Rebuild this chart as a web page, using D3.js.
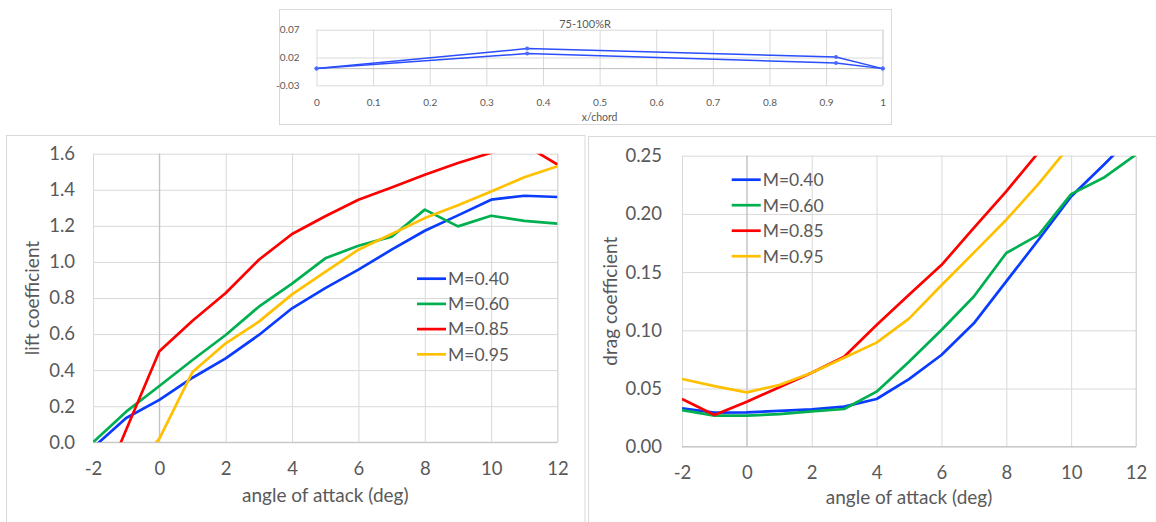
<!DOCTYPE html>
<html>
<head>
<meta charset="utf-8">
<script src="https://cdn.jsdelivr.net/npm/d3@7"></script>
<style>
  body { margin: 0; background: #fff; }
  svg { display: block; font-family: Lato, "Open Sans", sans-serif; }
</style>
</head>
<body>
<div id="chart"></div>
<script>
// ---- data ----
var angles = [-2, -1, 0, 1, 2, 3, 4, 5, 6, 7, 8, 9, 10, 11, 12];
var machLabels = ["M=0.40", "M=0.60", "M=0.85", "M=0.95"];
var machColors = ["#0a3cff", "#00b050", "#ff0000", "#ffc000"];

var liftM040 = [-0.03, 0.135, 0.235, 0.358, 0.465, 0.595, 0.743, 0.855, 0.957, 1.068, 1.173, 1.258, 1.345, 1.367, 1.36];
var liftM060 = [0.0, 0.17, 0.312, 0.456, 0.595, 0.752, 0.88, 1.02, 1.09, 1.14, 1.29, 1.197, 1.256, 1.228, 1.212];
var liftM085 = [-0.37, 0.07, 0.505, 0.674, 0.828, 1.012, 1.155, 1.253, 1.345, 1.413, 1.483, 1.548, 1.605, 1.65, 1.54];
var liftM095 = [-0.5, -0.2, 0.02, 0.39, 0.549, 0.669, 0.82, 0.945, 1.068, 1.155, 1.243, 1.314, 1.391, 1.469, 1.53];

var dragM040 = [0.033, 0.0292, 0.0295, 0.0307, 0.0321, 0.0344, 0.041, 0.058, 0.0788, 0.106, 0.142, 0.178, 0.215, 0.242, 0.27];
var dragM060 = [0.0315, 0.0267, 0.0267, 0.028, 0.0304, 0.0324, 0.0473, 0.073, 0.1003, 0.129, 0.1664, 0.182, 0.217, 0.231, 0.251];
var dragM085 = [0.041, 0.0272, 0.0387, 0.051, 0.0636, 0.0773, 0.1045, 0.1306, 0.156, 0.188, 0.2194, 0.253, 0.29, 0.33, 0.37];
var dragM095 = [0.0582, 0.052, 0.0467, 0.053, 0.0636, 0.0765, 0.0894, 0.110, 0.1387, 0.1667, 0.195, 0.226, 0.26, 0.30, 0.34];

// airfoil section 75-100%R
var chordX = [0, 0.372, 0.9175, 1];
var upperY = [0, 0.036, 0.021, 0];
var lowerY = [0, 0.027, 0.010, 0];

var angleTicks = [-2, 0, 2, 4, 6, 8, 10, 12];
var liftTicks = [0, 0.2, 0.4, 0.6, 0.8, 1.0, 1.2, 1.4, 1.6];
var dragTicks = [0, 0.05, 0.10, 0.15, 0.20, 0.25];
var chordTicks = [0, 0.1, 0.2, 0.3, 0.4, 0.5, 0.6, 0.7, 0.8, 0.9, 1];
var thickTicks = [-0.03, 0.02, 0.07];

var width = 1156;
var height = 522;
var gridColor = "#d9d9d9";
var axisColor = "#bfbfbf";
var textColor = "#595959";

// Excel writes a plain hyphen for negatives
function plain(fmt) {
    var f = d3.format(fmt);
    return function(d) { return f(d).replace("\u2212", "-"); };
}

var svg = d3.select("#chart")
    .append("svg")
    .attr("width", width)
    .attr("height", height);

// chart frames
svg.append("rect").attr("x", 6.5).attr("y", 135.5).attr("width", 578.5).attr("height", 500)
    .attr("fill", "#fff").attr("stroke", gridColor);
svg.append("rect").attr("x", 588.5).attr("y", 136.5).attr("width", 600).attr("height", 500)
    .attr("fill", "#fff").attr("stroke", gridColor);
svg.append("rect").attr("x", 279.5).attr("y", 9.5).attr("width", 612).attr("height", 115)
    .attr("fill", "#fff").attr("stroke", gridColor);

// draws gridlines + tick labels with d3 axes, Excel style
function drawGrid(g, x, y, xTicks, yTicks, xFmt, yFmt, fs, xPad, yPad) {
    var w = x.range()[1] - x.range()[0];
    var h = y.range()[0] - y.range()[1];
    var gy = g.append("g")
        .attr("transform", "translate(" + x.range()[0] + ",0)")
        .call(d3.axisLeft(y).tickValues(yTicks).tickFormat(yFmt).tickSize(-w).tickPadding(yPad));
    var gx = g.append("g")
        .attr("transform", "translate(0," + y.range()[0] + ")")
        .call(d3.axisBottom(x).tickValues(xTicks).tickFormat(xFmt).tickSize(-h).tickPadding(xPad));
    [gx, gy].forEach(function(a) {
        a.select(".domain").remove();
        a.selectAll(".tick line").attr("stroke", gridColor).attr("stroke-width", 1);
        a.selectAll(".tick text").attr("fill", textColor).style("font-size", fs + "px")
            .style("font-family", "Lato, sans-serif");
    });
    // right border of plot area
    g.append("line").attr("x1", x.range()[1]).attr("x2", x.range()[1])
        .attr("y1", y.range()[0]).attr("y2", y.range()[1]).attr("stroke", gridColor);
}

function addClip(id, x, y) {
    svg.append("clipPath").attr("id", id).append("rect")
        .attr("x", x.range()[0]).attr("y", y.range()[1])
        .attr("width", x.range()[1] - x.range()[0])
        .attr("height", y.range()[0] - y.range()[1]);
}

// ---------- top: airfoil section ----------
var xc = d3.scaleLinear().domain([0, 1]).range([316.5, 882.7]);
var yc = d3.scaleLinear().domain([-0.03, 0.07]).range([85.3, 29.7]);
var topG = svg.append("g");
drawGrid(topG, xc, yc, chordTicks, thickTicks, plain("~f"), plain(".2f"), 10, 13.5, 17);
topG.append("line").attr("x1", xc(0)).attr("x2", xc(1)).attr("y1", yc(0)).attr("y2", yc(0))
    .attr("stroke", axisColor);

[upperY, lowerY].forEach(function(ys) {
    var pts = chordX.map(function(c, i) { return [c, ys[i]]; });
    topG.append("path")
        .attr("d", d3.line().x(function(d) { return xc(d[0]); }).y(function(d) { return yc(d[1]); })(pts))
        .attr("fill", "none").attr("stroke", "#2a4dff").attr("stroke-width", 1.5);
    topG.selectAll(null).data(pts).enter().append("circle")
        .attr("cx", function(d) { return xc(d[0]); })
        .attr("cy", function(d) { return yc(d[1]); })
        .attr("r", 2).attr("fill", "#4a6aff");
});

topG.append("text").attr("x", 585).attr("y", 27.5).attr("text-anchor", "middle")
    .attr("fill", textColor).style("font-size", "11px").text("75-100%R");
topG.append("text").attr("x", 599.6).attr("y", 121).attr("text-anchor", "middle")
    .attr("fill", textColor).style("font-size", "10.5px").text("x/chord");

// ---------- lift / drag charts ----------
function drawPolar(opts) {
    var x = d3.scaleLinear().domain([-2, 12]).range(opts.xr);
    var y = d3.scaleLinear().domain(opts.yd).range(opts.yr);
    var g = svg.append("g");
    drawGrid(g, x, y, angleTicks, opts.yTicks, plain("d"), opts.yFmt, 18.5, opts.xPad, opts.yPad);

    // axis lines (value axis crosses at 0)
    g.append("line").attr("x1", x(0)).attr("x2", x(0)).attr("y1", y.range()[0]).attr("y2", y.range()[1])
        .attr("stroke", axisColor).attr("stroke-width", 1);
    g.append("line").attr("x1", x.range()[0]).attr("x2", x.range()[1]).attr("y1", y.range()[0]).attr("y2", y.range()[0])
        .attr("stroke", axisColor).attr("stroke-width", 1);

    addClip(opts.id, x, y);
    var line = d3.line().x(function(d, i) { return x(angles[i]); }).y(function(d) { return y(d); });
    g.append("g").attr("clip-path", "url(#" + opts.id + ")")
        .selectAll("path").data(opts.series).enter().append("path")
        .attr("d", line)
        .attr("fill", "none")
        .attr("stroke", function(d, i) { return machColors[i]; })
        .attr("stroke-width", 2.7)
        .attr("stroke-linejoin", "round");

    // legend
    var lg = g.append("g");
    machLabels.forEach(function(lab, i) {
        var cy = opts.legY + i * opts.legStep;
        lg.append("line").attr("x1", opts.legX).attr("x2", opts.legX + 29).attr("y1", cy).attr("y2", cy)
            .attr("stroke", machColors[i]).attr("stroke-width", 2.7);
        lg.append("text").attr("x", opts.legX + 31).attr("y", cy).attr("dy", "0.36em")
            .attr("fill", textColor).style("font-size", "17.5px").text(lab);
    });

    // axis titles
    g.append("text").attr("x", (x.range()[0] + x.range()[1]) / 2).attr("y", opts.xTitleY)
        .attr("text-anchor", "middle").attr("fill", textColor).style("font-size", "19px")
        .text("angle of attack (deg)");
    g.append("text")
        .attr("transform", "translate(" + opts.yTitleX + "," + (y.range()[0] + y.range()[1]) / 2 + ") rotate(-90)")
        .attr("text-anchor", "middle").attr("dy", "0.36em")
        .attr("fill", textColor).style("font-size", "19px")
        .text(opts.yTitle);
}

drawPolar({
    id: "clipLift",
    xr: [93, 557.5], yd: [0, 1.6], yr: [442.3, 153.7],
    yTicks: liftTicks, yFmt: plain(".1f"),
    xPad: 20, yPad: 18,
    series: [liftM040, liftM060, liftM085, liftM095],
    legX: 417, legY: 278.7, legStep: 25.2,
    xTitleY: 502, yTitleX: 32, yTitle: "lift coefficient"
});

drawPolar({
    id: "clipDrag",
    xr: [682, 1136], yd: [0, 0.25], yr: [446.7, 155.7],
    yTicks: dragTicks, yFmt: plain(".2f"),
    xPad: 19, yPad: 20,
    series: [dragM040, dragM060, dragM085, dragM095],
    legX: 731.7, legY: 179.7, legStep: 25.5,
    xTitleY: 504, yTitleX: 610, yTitle: "drag coefficient"
});
</script>
</body>
</html>
